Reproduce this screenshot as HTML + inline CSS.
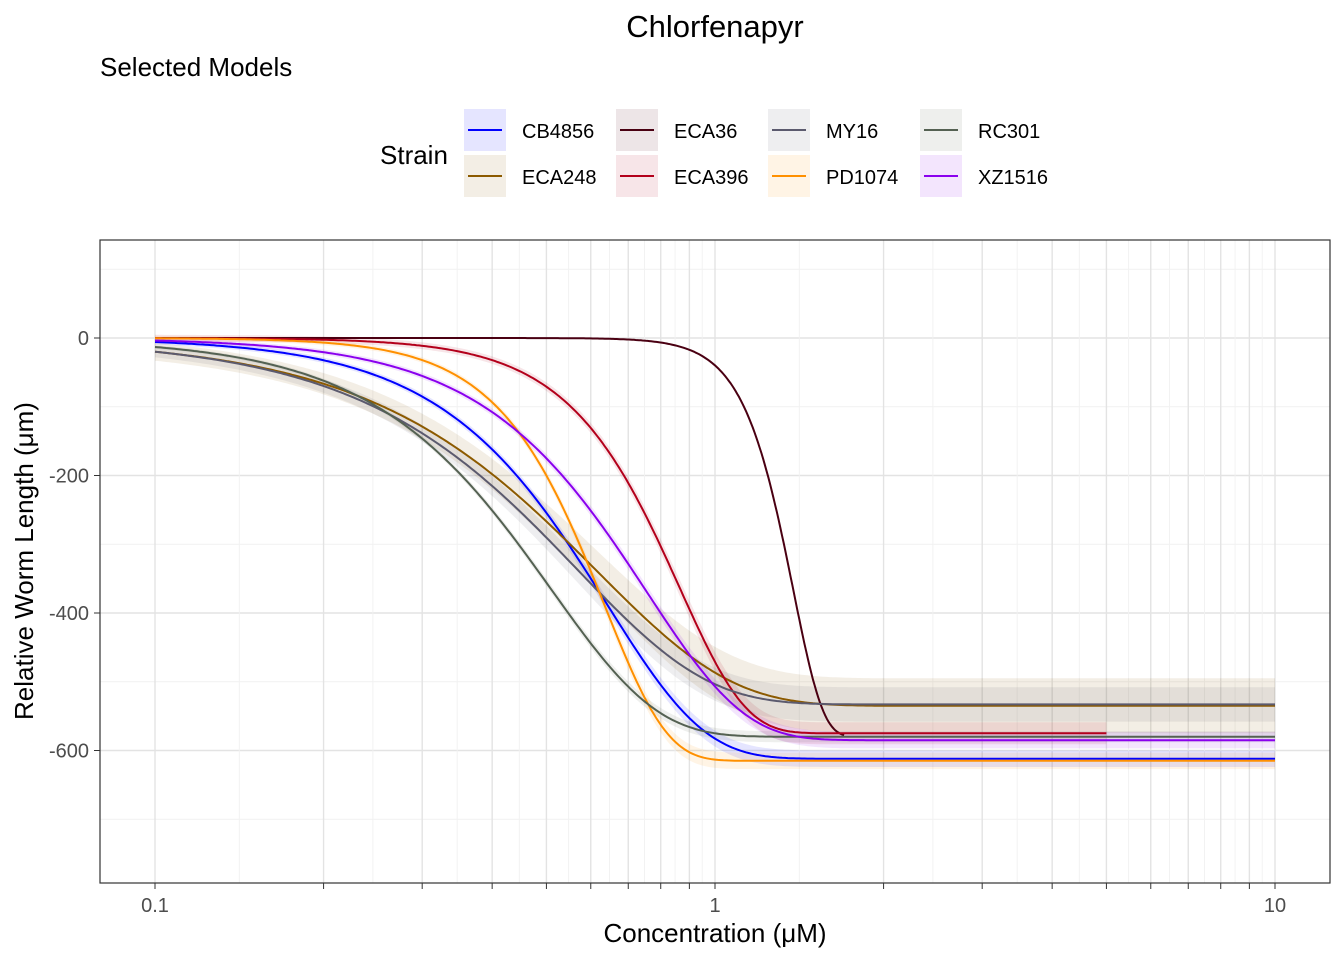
<!DOCTYPE html>
<html><head><meta charset="utf-8"><style>
body{margin:0;background:#fff;font-family:"Liberation Sans",Arial,sans-serif}
</style></head><body>
<svg id="chart" width="1344" height="960" xmlns="http://www.w3.org/2000/svg">
<text x="715" y="37" font-size="31" text-anchor="middle">Chlorfenapyr</text>
<text x="100" y="76" font-size="26">Selected Models</text>
<text x="380" y="164" font-size="26">Strain</text>
<g id="legend"></g>
<g id="grid"></g>
<g id="ribbons"></g>
<g id="lines"></g>
<rect x="100" y="240" width="1230" height="643" fill="none" stroke="#333" stroke-width="1.2"/>
<g id="axes"></g>
<text x="715" y="942" font-size="26" text-anchor="middle">Concentration (μM)</text>
<text transform="translate(33,561) rotate(-90)" font-size="26" text-anchor="middle">Relative Worm Length (μm)</text>
</svg>
<script>
const strains=["CB4856","ECA248","ECA36","ECA396","MY16","PD1074","RC301","XZ1516"];
const colors=["#0000ff","#8c5a00","#4a0012","#b3001b","#5b5a6e","#ff9000","#546152","#8a00ee"];
const bottoms=[-612,-535,-580,-575,-533,-615,-580,-585];
const ec50s=[0.641,0.614,1.38,0.865,0.568,0.635,0.511,0.756];
const slopes=[2.5,1.8,8.2,3.7,1.88,3.9,2.32,2.5];
const ribbonHalf=[12,40,0,16,25,12,8,12];
const maxConc=[10,10,1.7,5,10,10,10,10];
const yTicks=[0,-200,-400,-600];
const xTicks=[0.1,1,10];
const NS="http://www.w3.org/2000/svg";
const X=v=>155+560*Math.log10(v/0.1);
const Y=v=>338-v*0.6875;
function mk(t,a,p){const e=document.createElementNS(NS,t);for(const k in a)e.setAttribute(k,a[k]);p.appendChild(e);return e;}
const grid=document.getElementById('grid'),axes=document.getElementById('axes');
for(let v=-700;v<=100;v+=100){const g=mk('line',{x1:100,x2:1330,y1:Y(v),y2:Y(v),stroke:v%200===0?'#e3e3e3':'#f1f1f1','stroke-width':v%200===0?1.4:0.9},grid);
}
const majors=[];
[0.1,1].forEach(d=>{for(let m=1;m<10;m++)majors.push(d*m);});majors.push(10);
majors.forEach((v,i)=>{
const g=mk('line',{x1:X(v),x2:X(v),y1:240,y2:883,stroke:'#e3e3e3','stroke-width':1.4},grid);

if(i<majors.length-1){const mv=Math.sqrt(v*majors[i+1]);
const h=mk('line',{x1:X(mv),x2:X(mv),y1:240,y2:883,stroke:'#f1f1f1','stroke-width':0.9},grid);
}
const t=mk('line',{x1:X(v),x2:X(v),y1:883,y2:889,stroke:'#333','stroke-width':1},axes);
});
xTicks.forEach(v=>{const t=mk('text',{x:X(v),y:912,'font-size':20,'text-anchor':'middle',fill:'#4d4d4d'},axes);t.textContent=String(v);
});
yTicks.forEach(v=>{const t=mk('text',{x:89,y:Y(v)+7,'font-size':20,'text-anchor':'end',fill:'#4d4d4d'},axes);t.textContent=String(v);

const l=mk('line',{x1:94,x2:100,y1:Y(v),y2:Y(v),stroke:'#333'},axes);});
const rib=document.getElementById('ribbons'),lines=document.getElementById('lines');
strains.forEach((s,i)=>{const pts=[],up=[],lo=[];
for(let k=0;k<=400;k++){const lx=-1+k/400*(Math.log10(maxConc[i])+1);const x=Math.pow(10,lx);
const f=1-Math.exp(-Math.pow(x/ec50s[i],slopes[i]));const y=bottoms[i]*f;const w=ribbonHalf[i]*(0.3+0.7*f);
pts.push(X(x).toFixed(1)+','+Y(y).toFixed(1));up.push(X(x).toFixed(1)+','+Y(y+w).toFixed(1));lo.unshift(X(x).toFixed(1)+','+Y(y-w).toFixed(1));}
if(ribbonHalf[i]>0){const r=mk('polygon',{points:up.concat(lo).join(' '),fill:colors[i],'fill-opacity':0.1},rib);
}
const p=mk('polyline',{points:pts.join(' '),fill:'none',stroke:colors[i],'stroke-width':2},lines);
});
const lg=document.getElementById('legend');
const order=[0,2,4,6,1,3,5,7];
order.forEach((si,j)=>{const col=j%4,row=Math.floor(j/4);const x=464+col*152,y=109+row*46;
const g=mk('g',{},lg);
mk('rect',{x:x,y:y,width:42,height:42,fill:colors[si],'fill-opacity':0.1},g);
mk('line',{x1:x+4,x2:x+38,y1:y+21,y2:y+21,stroke:colors[si],'stroke-width':2},g);
const t=mk('text',{x:x+58,y:y+29,'font-size':20},g);t.textContent=strains[si];});
</script>
</body></html>
